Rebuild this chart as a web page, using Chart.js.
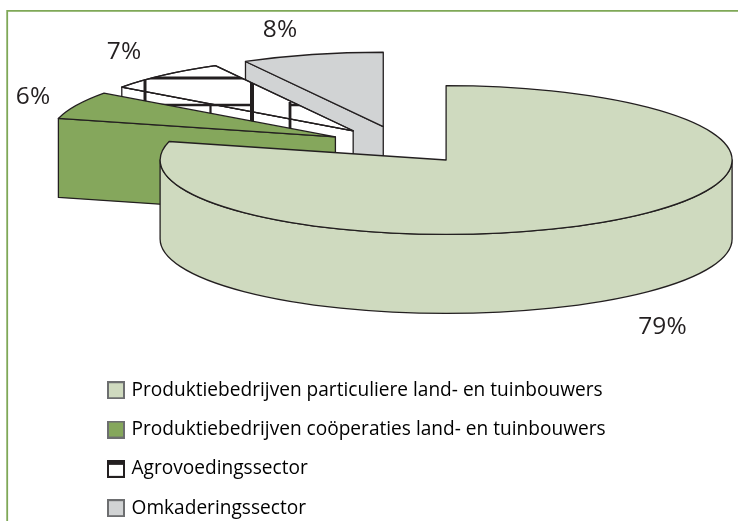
<!DOCTYPE html>
<html lang="nl">
<head>
<meta charset="utf-8">
<title>Verdeling per sector</title>
<script src="https://cdn.jsdelivr.net/npm/chart.js@4"></script>
<style>
    html, body { margin: 0; padding: 0; background: #fff; }
    canvas { display: block; }
</style>
</head>
<body>
<canvas id="pieChart" width="738" height="521"></canvas>
<script>
const categories = [
    'Produktiebedrijven particuliere land- en tuinbouwers',
    'Produktiebedrijven coöperaties land- en tuinbouwers',
    'Agrovoedingssector',
    'Omkaderingssector'
];
const shares = [79, 6, 7, 8];
const sliceColors = ['#cfdabf', '#85a75c', '#ffffff', '#d1d3d4'];

// label position of each percentage, centre of the text
const labelSpots = [[662.5, 327], [33, 97], [124, 52], [280, 30]];

const INK = '#231f20';
const FRAME = '#7fa857';
const FONT = '"Open Sans", sans-serif';

// 3D look of the pie
const PIE_X = 401.4;
const PIE_Y = 145;
const PIE_RADIUS = 286;
const TILT = 0.26;
const DEPTH = 79;
const EXPLODE = 0.255;

// the heavy lattice lines inside the white slice: [x1, y1, x2, y2, width]
const lattice = [
    [130, 78, 245, 78, 2.8],
    [145, 76, 145, 104, 3],
    [150, 105, 253, 105, 2.6],
    [210.5, 105, 210.5, 118, 2.2],
    [252, 80, 252, 125, 4],
    [290, 102, 290, 131, 2.8],
    [290, 105, 300, 105, 2.6]
];

function makeIcon(fill, band) {
    const c = document.createElement('canvas');
    c.width = 18;
    c.height = 18;
    const g = c.getContext('2d');
    g.fillStyle = fill;
    g.fillRect(0, 0, 18, 18);
    g.strokeStyle = band ? INK : '#6d6e70';
    g.lineWidth = 2;
    g.strokeRect(1, 1, 16, 16);
    if (band) {
        g.fillStyle = INK;
        g.fillRect(0, 0, 18, 5);
    }
    return c;
}

function sliceGeometry(el) {
    const mid = (el.startAngle + el.endAngle) / 2;
    const rx = el.outerRadius;
    const ry = rx * TILT;
    return {
        cx: PIE_X + EXPLODE * rx * Math.cos(mid),
        cy: PIE_Y + EXPLODE * ry * Math.sin(mid),
        rx, ry,
        start: el.startAngle,
        end: el.endAngle
    };
}

function traceTop(ctx, s) {
    ctx.beginPath();
    ctx.moveTo(s.cx, s.cy);
    ctx.ellipse(s.cx, s.cy, s.rx, s.ry, 0, s.start, s.end);
    ctx.closePath();
}

function traceWall(ctx, s, angle) {
    const x = s.cx + s.rx * Math.cos(angle);
    const y = s.cy + s.ry * Math.sin(angle);
    ctx.beginPath();
    ctx.moveTo(s.cx, s.cy);
    ctx.lineTo(x, y);
    ctx.lineTo(x, y + DEPTH);
    ctx.lineTo(s.cx, s.cy + DEPTH);
    ctx.closePath();
}

function paint(ctx, color) {
    ctx.fillStyle = color;
    ctx.fill();
    ctx.stroke();
}

function drawSlice(ctx, el, color, index) {
    const s = sliceGeometry(el);
    ctx.strokeStyle = INK;
    ctx.lineWidth = 1.3;
    ctx.lineJoin = 'round';

    // radial walls, only those that face the viewer
    if (Math.cos(s.start) < -0.001) {
        traceWall(ctx, s, s.start);
        paint(ctx, color);
    }
    if (Math.cos(s.end) > 0.001) {
        traceWall(ctx, s, s.end);
        paint(ctx, color);
    }

    // outer rim, front half only
    const a0 = Math.max(s.start, 0);
    const a1 = Math.min(s.end, Math.PI);
    if (a1 > a0) {
        ctx.beginPath();
        ctx.ellipse(s.cx, s.cy, s.rx, s.ry, 0, a0, a1);
        ctx.ellipse(s.cx, s.cy + DEPTH, s.rx, s.ry, 0, a1, a0, true);
        ctx.closePath();
        paint(ctx, color);
    }

    traceTop(ctx, s);
    paint(ctx, color);

    if (index === 2) drawLattice(ctx, s);
}

function drawLattice(ctx, s) {
    ctx.save();
    const clip = new Path2D();
    clip.moveTo(s.cx, s.cy);
    clip.ellipse(s.cx, s.cy, s.rx, s.ry, 0, s.start, s.end);
    clip.closePath();
    const x = s.cx + s.rx * Math.cos(s.start);
    const y = s.cy + s.ry * Math.sin(s.start);
    clip.moveTo(s.cx, s.cy);
    clip.lineTo(x, y);
    clip.lineTo(x, y + DEPTH);
    clip.lineTo(s.cx, s.cy + DEPTH);
    clip.closePath();
    ctx.clip(clip);
    ctx.strokeStyle = INK;
    lattice.forEach(([x1, y1, x2, y2, w]) => {
        ctx.lineWidth = w;
        ctx.lineCap = 'butt';
        ctx.beginPath();
        ctx.moveTo(x1, y1);
        ctx.lineTo(x2, y2);
        ctx.stroke();
    });
    ctx.restore();

    // the edge of the top face runs over the lattice
    ctx.lineWidth = 1.3;
    traceTop(ctx, s);
    ctx.stroke();
}

const pie3dPlugin = {
    id: 'pie3d',
    afterLayout(chart) {
        // legend goes under the pie, the last row reaches past the normal column height
        chart.legend.top = 360.5;
        chart.legend.bottom = 600;
    },
    beforeDatasetsDraw(chart) {
        const ctx = chart.ctx;
        const meta = chart.getDatasetMeta(0);
        ctx.save();

        // green page frame
        ctx.strokeStyle = FRAME;
        ctx.lineWidth = 1.8;
        ctx.beginPath();
        ctx.moveTo(7.2, 521);
        ctx.lineTo(7.2, 10.9);
        ctx.lineTo(738, 10.9);
        ctx.stroke();

        // far slices first, the big one ends up in front
        for (let i = meta.data.length - 1; i >= 0; i--) {
            drawSlice(ctx, meta.data[i], sliceColors[i], i);
        }

        ctx.fillStyle = INK;
        ctx.font = '24.5px ' + FONT;
        ctx.textAlign = 'center';
        ctx.textBaseline = 'middle';
        shares.forEach((v, i) => {
            ctx.fillText(v + '%', labelSpots[i][0], labelSpots[i][1]);
        });
        ctx.restore();
        return false;
    }
};

document.addEventListener('DOMContentLoaded', () => {
    new Chart(document.getElementById('pieChart'), {
        type: 'pie',
        data: {
            labels: categories,
            datasets: [{ data: shares, backgroundColor: sliceColors, radius: PIE_RADIUS }]
        },
        plugins: [pie3dPlugin],
        options: {
            responsive: false,
            animation: false,
            layout: { padding: { left: 89.8 } },
            plugins: {
                tooltip: { enabled: false },
                legend: {
                    position: 'chartArea',
                    align: 'start',
                    labels: {
                        color: INK,
                        font: { family: FONT, size: 19.1 },
                        usePointStyle: true,
                        pointStyleWidth: 12,
                        padding: 20.2,
                        generateLabels: () => categories.map((text, i) => ({
                            text,
                            index: i,
                            hidden: false,
                            fillStyle: sliceColors[i],
                            strokeStyle: INK,
                            lineWidth: 0,
                            pointStyle: makeIcon(sliceColors[i], i === 2)
                        }))
                    }
                }
            }
        }
    });
});
</script>
</body>
</html>
